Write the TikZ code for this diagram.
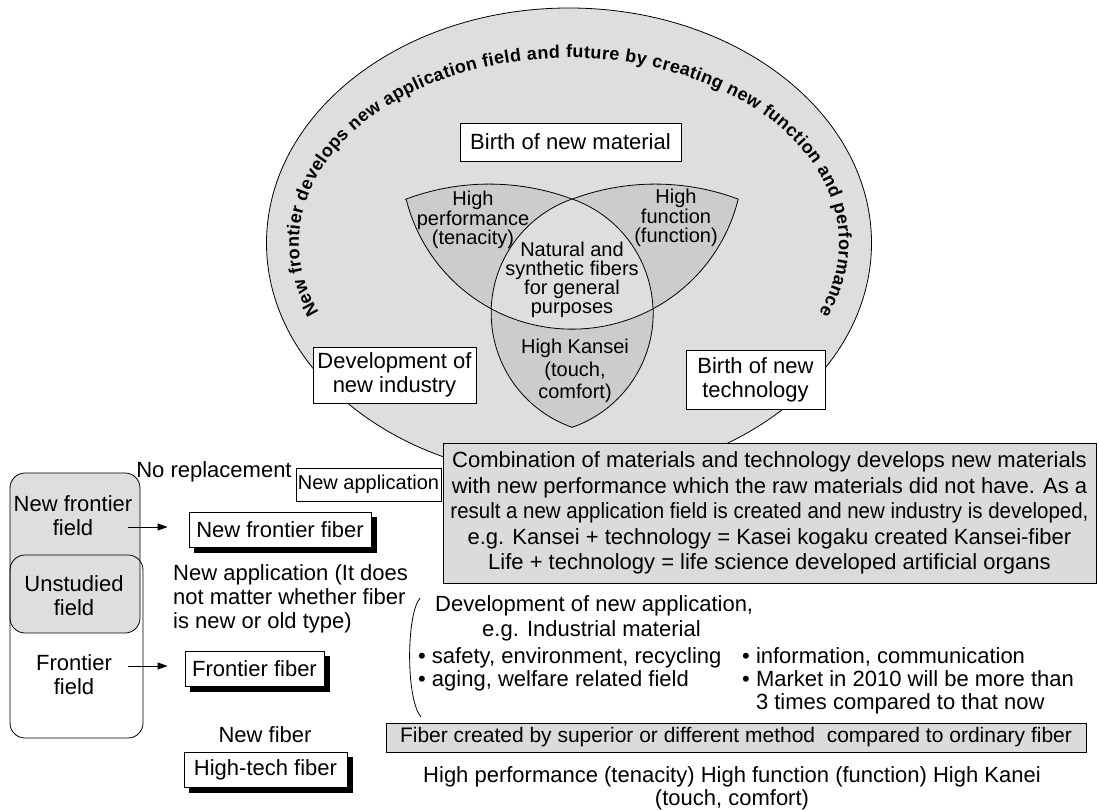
\documentclass[tikz,border=0pt]{standalone}
\usepackage{fontspec}
\setmainfont{Liberation Sans}
\usepackage{graphicx}
\usetikzlibrary{arrows.meta,decorations.text,shadows}

\definecolor{ovalgray}{RGB}{221,222,224}
\definecolor{petalgray}{RGB}{203,204,206}
\definecolor{boxgray}{RGB}{218,219,221}

\newcommand\fbig{\fontsize{22}{24}\selectfont}
\newcommand\fvenn{\fontsize{20}{19.5}\selectfont}
\newcommand\fapp{\fontsize{20}{22}\selectfont}
\newcommand\fcomb{\fontsize{22}{25.5}\selectfont}
\newcommand\fbot{\fontsize{22}{23}\selectfont}

\tikzset{
  box/.style={draw=black, line width=0.8pt, fill=white, inner sep=0pt, align=center, font=\fbig},
  shbox/.style={box, copy shadow={shadow xshift=5pt, shadow yshift=-5pt, fill=black, draw=black}},
  graybox/.style={box, fill=boxgray},
  lbl/.style={inner sep=0pt, align=center, font=\fbig},
  vlbl/.style={inner sep=0pt, align=center, font=\fvenn},
  line/.style={anchor=base west, inner sep=0pt, font=\fbig},
  arr/.style={line width=0.8pt, -{Triangle[length=10pt,width=7pt]}},
  outline/.style={draw=black, line width=0.8pt},
}

\begin{document}
\begin{tikzpicture}[x=1pt,y=-1pt]
\useasboundingbox (0,0) rectangle (1100,810);

% ---------- large oval ----------
\path[outline, fill=ovalgray] (569,243) ellipse [x radius=302.5, y radius=235];

% text running along the inside of the oval, spread evenly over the arc
\path[decorate, decoration={text along path, text align=fit to path,
  text={|\fontsize{18}{18}\selectfont\bfseries|New frontier develops new application field and future by creating new function and performance}}]
  (569,243) ++(157.8:270 and 185) arc[start angle=157.8, end angle=382.2, x radius=270, y radius=185];

% ---------- three-petal diagram ----------
\coordinate (vA) at (406.1,199.1);
\coordinate (vT) at (572.06,199.0);

% union of the petals
\path[outline, fill=petalgray] (vA)
  arc[start angle=-110.5, end angle=-69.5, radius=237.1]
  arc[start angle=-110.5, end angle=-69.5, radius=237.1]
  arc[start angle=13.87, end angle=61.76, radius=171]
  arc[start angle=-2.08, end angle=70.7, radius=121]
  arc[start angle=109.3, end angle=182.08, radius=121]
  arc[start angle=118.24, end angle=166.13, radius=171]
  -- cycle;

% common centre region
\path[outline, fill=ovalgray] (vT)
  arc[start angle=-70.7, end angle=-2.08, radius=121]
  arc[start angle=61.76, end angle=118.24, radius=171]
  arc[start angle=182.08, end angle=250.7, radius=121]
  -- cycle;

\node[vlbl] (perf) at (473,220) {High\\performance\\(tenacity)};
\node[vlbl] (func) at (676,218) {High\\function\\(function)};
\node[vlbl, font=\fontsize{20}{19}\selectfont] (gen) at (572,280) {Natural and\\synthetic fibers\\for general\\purposes};
\node[vlbl, font=\fontsize{20}{22.5}\selectfont] (kan) at (575,371) {High Kansei\\(touch,\\comfort)};

% ---------- boxes on the oval ----------
\node[box, minimum width=221pt, minimum height=38pt] (mat) at (570.5,142) {Birth of new material};
\node[box, minimum width=163pt, minimum height=56pt] (ind) at (394.5,375) {Development of\\new industry};
\node[box, minimum width=139pt, minimum height=59pt] (tech) at (755.5,380) {Birth of new\\technology};

% ---------- explanation box ----------
\node[graybox, font=\fcomb, minimum width=653pt, minimum height=140pt] (comb) at (769.5,513)
  {Combination of materials and technology develops new materials\\
   with new performance which the raw materials did not have. As a\\
   \scalebox{0.93}[1]{result a new application field is created and new industry is developed,}\\
   e.g. Kansei + technology = Kasei kogaku created Kansei-fiber\\
   Life + technology = life science developed artificial organs};

% ---------- field blocks on the left ----------
\path[outline, fill=ovalgray, rounded corners=15pt] (10,473) rectangle (140,633);
\path[outline, rounded corners=15pt] (10,555) rectangle (143,738);

\node[lbl] (nfield) at (73,516) {New frontier\\field};
\node[lbl] (ufield) at (74,596) {Unstudied\\field};
\node[lbl] (ffield) at (74,675) {Frontier\\field};

\node[lbl] (norep) at (214,472) {No replacement};
\node[box, font=\fapp, minimum width=145pt, minimum height=33pt] (napp) at (368.5,484.5) {New application};

\node[shbox, minimum width=182pt, minimum height=35pt] (nffib) at (280,529.5) {New frontier fiber};
\node[shbox, minimum width=139pt, minimum height=35pt] (ffib) at (254.5,668.5) {Frontier fiber};
\node[shbox, minimum width=163pt, minimum height=35pt] (htfib) at (265.5,769.5) {High-tech fiber};

\coordinate (a1) at (128,527);
\coordinate (a2) at (128,666);
\draw[arr, shorten >=21pt] (a1) -- (a1 -| nffib.west);
\draw[arr, shorten >=17pt] (a2) -- (a2 -| ffib.west);

\node[lbl, anchor=west, align=left] (newapp) at (173,599)
  {New application (It does\\not matter whether fiber\\is new or old type)};
\node[lbl] (newfib) at (265,735) {New fiber};

% ---------- applications ----------
\draw[line width=0.8pt] (420,598) .. controls (406,615) and (406,700) .. (421,717);

\node[line] (dev) at (435,611) {Development of new application,};
\node[line] (egi) at (482,636) {e.g. Industrial material};
\node[line] (b1) at (418,663) {• safety, environment, recycling};
\node[line] (b2) at (418,686) {• aging, welfare related field};
\node[line] (b3) at (742,663) {• information, communication};
\node[line] (b4) at (742,686) {• Market in 2010 will be more than};
\node[line] (b5) at (742,709) {\phantom{• }3 times compared to that now};

\node[graybox, font=\fontsize{21}{23}\selectfont, minimum width=700pt, minimum height=29pt] (meth) at (736,737.5)
  {Fiber created by superior or different method\ \ compared to ordinary fiber};

\node[lbl, font=\fbot] (hp) at (732,788.5)
  {High performance (tenacity) High function (function) High Kanei\\(touch, comfort)};
\end{tikzpicture}
\end{document}
